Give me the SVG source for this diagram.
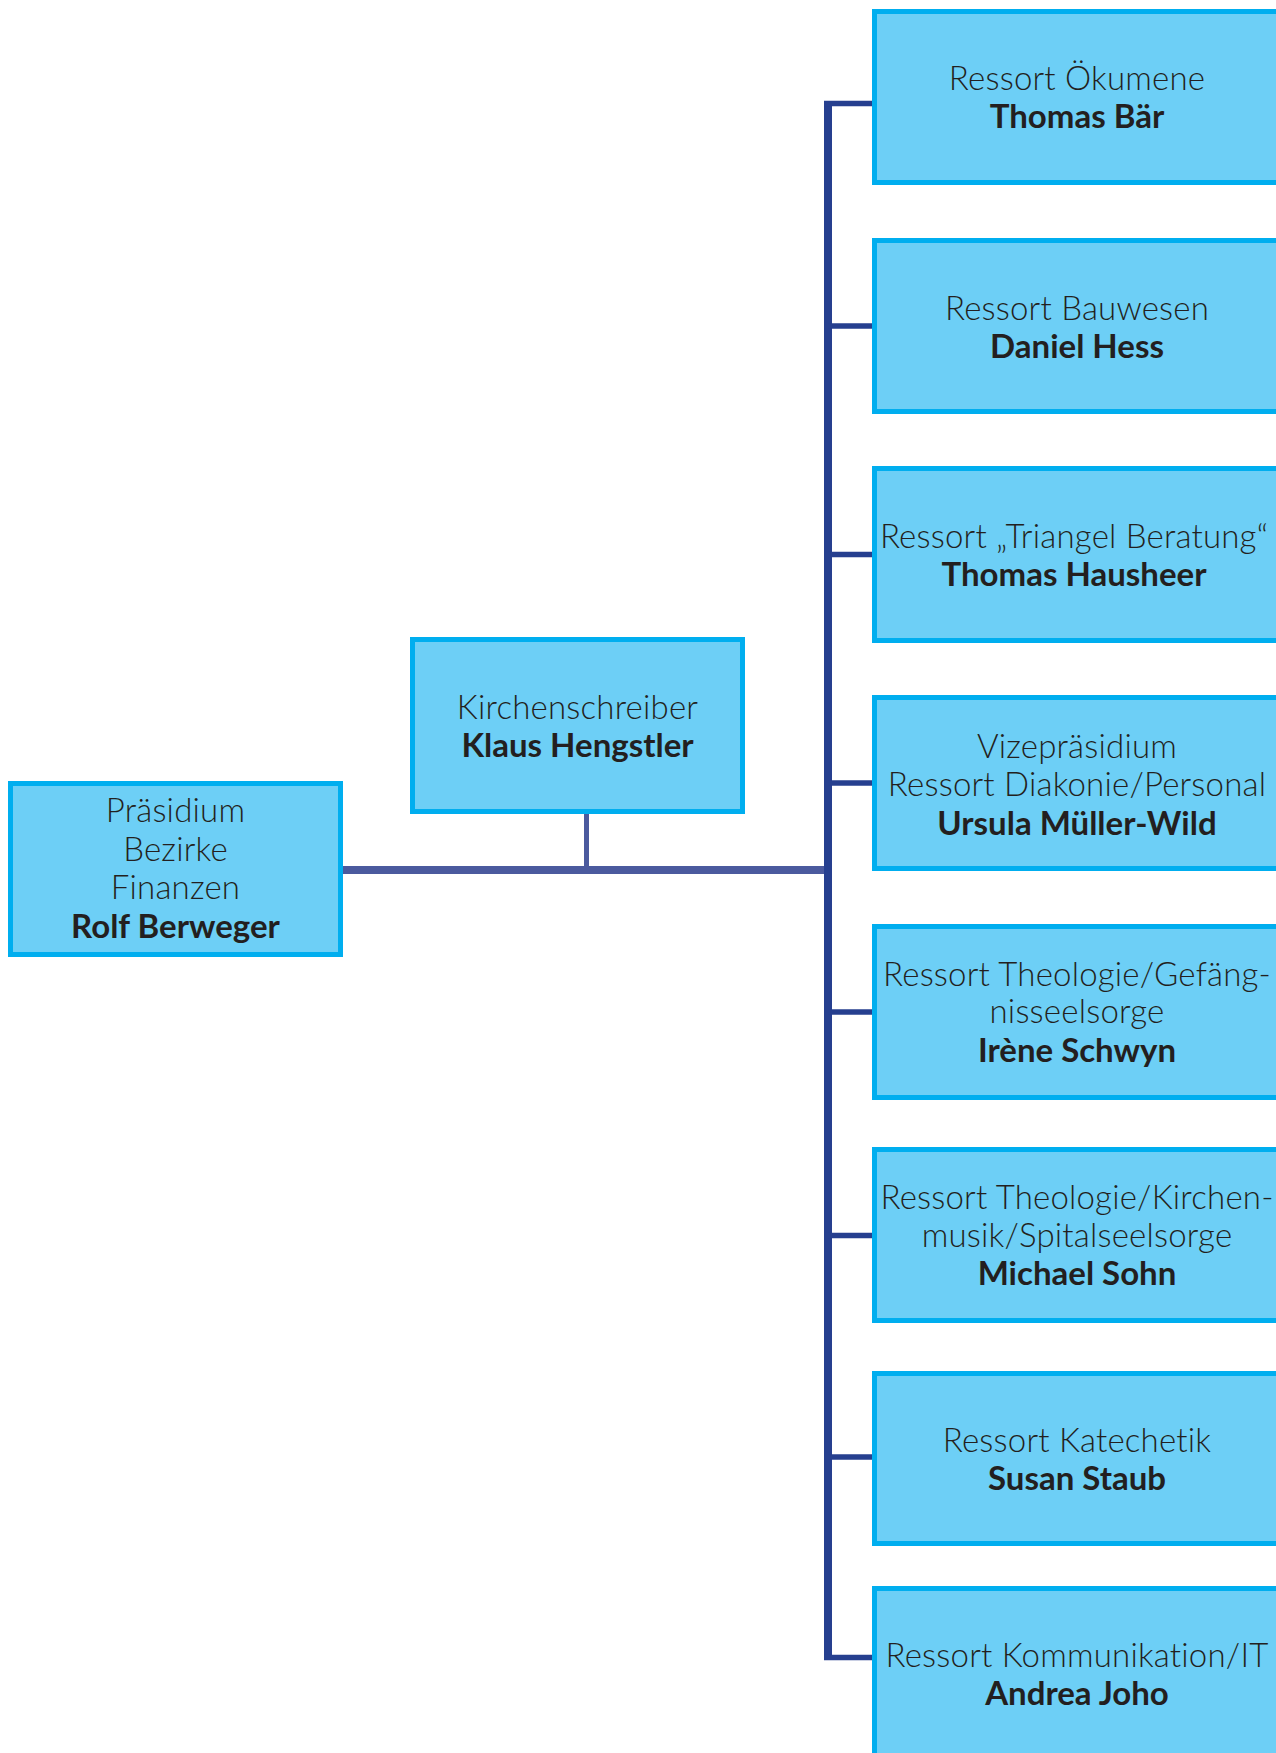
<svg xmlns="http://www.w3.org/2000/svg" width="1276" height="1753" viewBox="0 0 1276 1753">
<style>
.box{fill:#6dcff6;stroke:#00aeef;stroke-width:5}
.t{font-family:Lato,"Liberation Sans",sans-serif;font-size:33px;fill:#231f20;text-anchor:middle}
.l{font-weight:300;letter-spacing:0.2px}
.b{font-weight:700}
.trunk{stroke:#263f8f;fill:none}
.main{stroke:#4b5a9e;fill:none}
</style>
<rect width="1276" height="1753" fill="#ffffff"/>
<g id="connectors">
<line class="main" x1="343" y1="870" x2="828" y2="870" stroke-width="8"/>
<line class="main" x1="586.5" y1="814" x2="586.5" y2="870" stroke-width="5"/>
<line class="trunk" x1="828" y1="101" x2="828" y2="1660" stroke-width="8"/>
<g class="trunk" stroke-width="5.5">
<line x1="824" y1="103.5" x2="874" y2="103.5"/>
<line x1="828" y1="326" x2="874" y2="326"/>
<line x1="828" y1="554.5" x2="874" y2="554.5"/>
<line x1="828" y1="783" x2="874" y2="783"/>
<line x1="828" y1="1012" x2="874" y2="1012"/>
<line x1="828" y1="1235.5" x2="874" y2="1235.5"/>
<line x1="828" y1="1457" x2="874" y2="1457"/>
<line x1="824" y1="1657.5" x2="874" y2="1657.5"/>
</g>
</g>
<g id="praesidium">
<rect class="box" x="10.5" y="783.5" width="330" height="171"/>
<text class="t l" x="175.5" y="822">Präsidium</text>
<text class="t l" x="175.5" y="861">Bezirke</text>
<text class="t l" x="175.5" y="899">Finanzen</text>
<text class="t b" x="175.5" y="938">Rolf Berweger</text>
</g>
<g id="kirchenschreiber">
<rect class="box" x="412.5" y="639.5" width="330" height="172"/>
<text class="t l" x="577.5" y="719">Kirchenschreiber</text>
<text class="t b" x="577.5" y="757">Klaus Hengstler</text>
</g>
<g id="oekumene">
<rect class="box" x="874.5" y="11.5" width="420" height="171"/>
<text class="t l" x="1077" y="90">Ressort Ökumene</text>
<text class="t b" x="1077" y="128">Thomas Bär</text>
</g>
<g id="bauwesen">
<rect class="box" x="874.5" y="240.5" width="420" height="171"/>
<text class="t l" x="1077" y="320">Ressort Bauwesen</text>
<text class="t b" x="1077" y="358">Daniel Hess</text>
</g>
<g id="triangel">
<rect class="box" x="874.5" y="468.5" width="420" height="172"/>
<text class="t l" x="1074" y="548">Ressort „Triangel Beratung“</text>
<text class="t b" x="1074" y="586">Thomas Hausheer</text>
</g>
<g id="vizepraesidium">
<rect class="box" x="874.5" y="697.5" width="420" height="171"/>
<text class="t l" x="1077" y="758">Vizepräsidium</text>
<text class="t l" x="1077" y="796">Ressort Diakonie/Personal</text>
<text class="t b" x="1077" y="835">Ursula Müller-Wild</text>
</g>
<g id="gefaengnisseelsorge">
<rect class="box" x="874.5" y="926.5" width="420" height="171"/>
<text class="t l" x="1077" y="986">Ressort Theologie/Gefäng-</text>
<text class="t l" x="1077" y="1023">nisseelsorge</text>
<text class="t b" x="1077" y="1062">Irène Schwyn</text>
</g>
<g id="spitalseelsorge">
<rect class="box" x="874.5" y="1149.5" width="420" height="171"/>
<text class="t l" x="1077" y="1209">Ressort Theologie/Kirchen-</text>
<text class="t l" x="1077" y="1247">musik/Spitalseelsorge</text>
<text class="t b" x="1077" y="1285">Michael Sohn</text>
</g>
<g id="katechetik">
<rect class="box" x="874.5" y="1373.5" width="420" height="170"/>
<text class="t l" x="1077" y="1452">Ressort Katechetik</text>
<text class="t b" x="1077" y="1490">Susan Staub</text>
</g>
<g id="kommunikation">
<rect class="box" x="874.5" y="1588.5" width="420" height="200"/>
<text class="t l" x="1077" y="1667">Ressort Kommunikation/IT</text>
<text class="t b" x="1077" y="1705">Andrea Joho</text>
</g>
</svg>
